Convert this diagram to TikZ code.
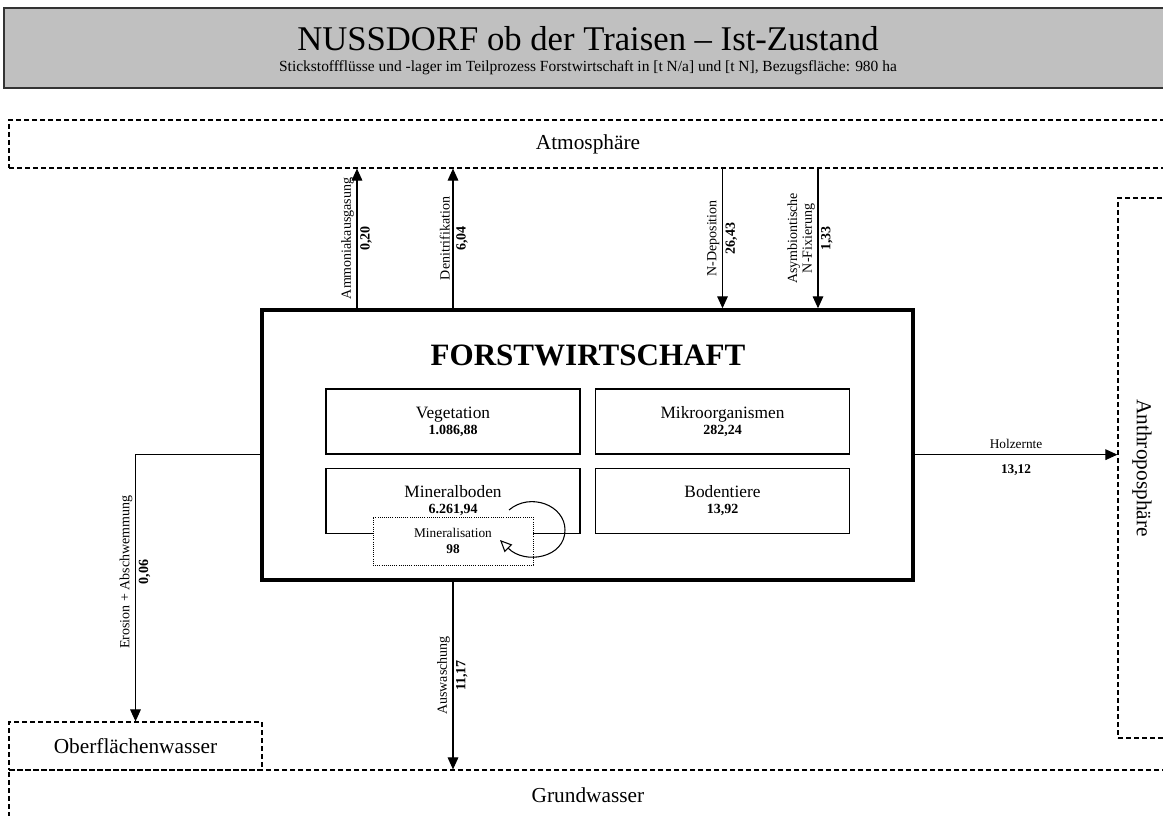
\documentclass[tikz,border=0pt]{standalone}
\usepackage{fontspec}
\setmainfont{Liberation Serif}
\usetikzlibrary{shapes.geometric, arrows.meta}

\definecolor{headgray}{RGB}{192,192,192}

\begin{document}
\begin{tikzpicture}[x=0.75pt,y=-0.75pt]
        \tikzstyle{envbox} = [rectangle, draw=black, line width=0.9pt, dash pattern=on 3.5pt off 2.5pt, inner sep=0pt, font=\fontsize{16}{18}\selectfont];
        \tikzstyle{process} = [rectangle, draw=black, line width=2.6pt, minimum width=488.25pt, minimum height=202.5pt];
        \tikzstyle{store} = [rectangle, draw=black, line width=1pt, fill=white, minimum width=190.5pt, minimum height=48.75pt, align=center, font=\fontsize{13}{15}\selectfont];
        \tikzstyle{arrow} = [line width=0.8pt, -{Triangle[length=9pt, width=8pt]}];
        \tikzstyle{flowname} = [rotate=90, font=\fontsize{10.5}{11}\selectfont, inner sep=2pt, align=center];
        \tikzstyle{flowvalue} = [rotate=90, font=\fontsize{10.5}{11}\selectfont\bfseries, inner sep=2pt];

        \useasboundingbox (0,0) rectangle (1163,816);
        \clip (0,0) rectangle (1163,816);

        % Kopf
        \node(header) [rectangle, draw=black!80, line width=1.2pt, fill=headgray, minimum width=876pt, minimum height=60pt] at (588,48) {};
        \node(title) at (588,39) {\fontsize{26}{30}\selectfont NUSSDORF ob der Traisen – Ist-Zustand};
        \node(subtitle) at (588,68) {\fontsize{11.6}{13}\selectfont Stickstoffflüsse und -lager im Teilprozess Forstwirtschaft in [t N/a] und [t N], Bezugsfläche: 980 ha};

        % Umgebung
        \node(atmos) [envbox, minimum width=868.5pt, minimum height=36pt] at (588,144) {Atmosphäre};
        \node(ow) [envbox, minimum width=189.75pt, minimum height=36pt] at (135.5,746) {Oberflächenwasser};
        \node(gw) [envbox, minimum width=868.5pt, minimum height=37.5pt] at (588,795) {Grundwasser};
        \node(anthro) [envbox, minimum width=36pt, minimum height=405pt] at (1142,468) {};
        \node(anthrolabel) [rotate=-90, font=\fontsize{16}{18}\selectfont] at (anthro) {Anthroposphäre};

        % Prozess
        \node(forst) [process] at (587.5,445) {};
        \node(forsttitle) at (588,355) {\fontsize{23.3}{27}\selectfont\bfseries FORSTWIRTSCHAFT};
        \node(veg) [store] at (453,421.5) {Vegetation\\[-3pt]{\fontsize{10.5}{12}\selectfont\bfseries 1.086,88}};
        \node(mikro) [store] at (722.5,421.5) {Mikroorganismen\\[-3pt]{\fontsize{10.5}{12}\selectfont\bfseries 282,24}};
        \node(mineral) [store] at (453,501) {Mineralboden\\[-3pt]{\fontsize{10.5}{12}\selectfont\bfseries 6.261,94}};
        \node(boden) [store] at (722.5,501) {Bodentiere\\[-3pt]{\fontsize{10.5}{12}\selectfont\bfseries 13,92}};
        \node(minz) [rectangle, draw=black, densely dotted, line width=0.6pt, fill=white, minimum width=120pt, minimum height=36pt, align=center, font=\fontsize{10}{12}\selectfont] at (453,541) {Mineralisation\\{\bfseries 98}};

        \coordinate(loopout) at (509,510);
        \coordinate(loopin) at (500,540);
        \draw[line width=0.8pt, -{Triangle[open, length=9pt, width=8pt]}] (loopout) .. controls (530,492) and (565,505) .. (565,530) .. controls (565,558) and (525,565) .. (loopin);

        % Fluesse
        \coordinate(ammo) at (357,0);
        \coordinate(fix) at (818,0);
        \draw[arrow] (forst.north -| ammo) -- node[flowname, anchor=south] {Ammoniakausgasung} node[flowvalue, anchor=north] {0,20} (atmos.south -| ammo);
        \draw[arrow] (forst.north -| veg) -- node[flowname, anchor=south] {Denitrifikation} node[flowvalue, anchor=north] {6,04} (atmos.south -| veg);
        \draw[arrow] (atmos.south -| mikro) -- node[flowname, anchor=south] {N-Deposition} node[flowvalue, anchor=north] {26,43} (forst.north -| mikro);
        \draw[arrow] (atmos.south -| fix) -- node[flowname, anchor=south] {Asymbiontische\\N-Fixierung} node[flowvalue, anchor=north] {1,33} (forst.north -| fix);
        \draw[arrow] (forst.east |- mikro.south) -- node[above=1pt, font=\fontsize{10}{12}\selectfont] {Holzernte} node[below=4pt, font=\fontsize{10}{12}\selectfont\bfseries] {13,12} (anthro.west |- mikro.south);
        \draw[arrow] (forst.west |- veg.south) -| node[pos=0.72, flowname, anchor=south] {Erosion + Abschwemmung} node[pos=0.72, flowvalue, anchor=north] {0,06} (ow.north);
        \draw[arrow] (forst.south -| veg) -- node[flowname, anchor=south] {Auswaschung} node[flowvalue, anchor=north] {11,17} (gw.north -| veg);

    \end{tikzpicture}
\end{document}
